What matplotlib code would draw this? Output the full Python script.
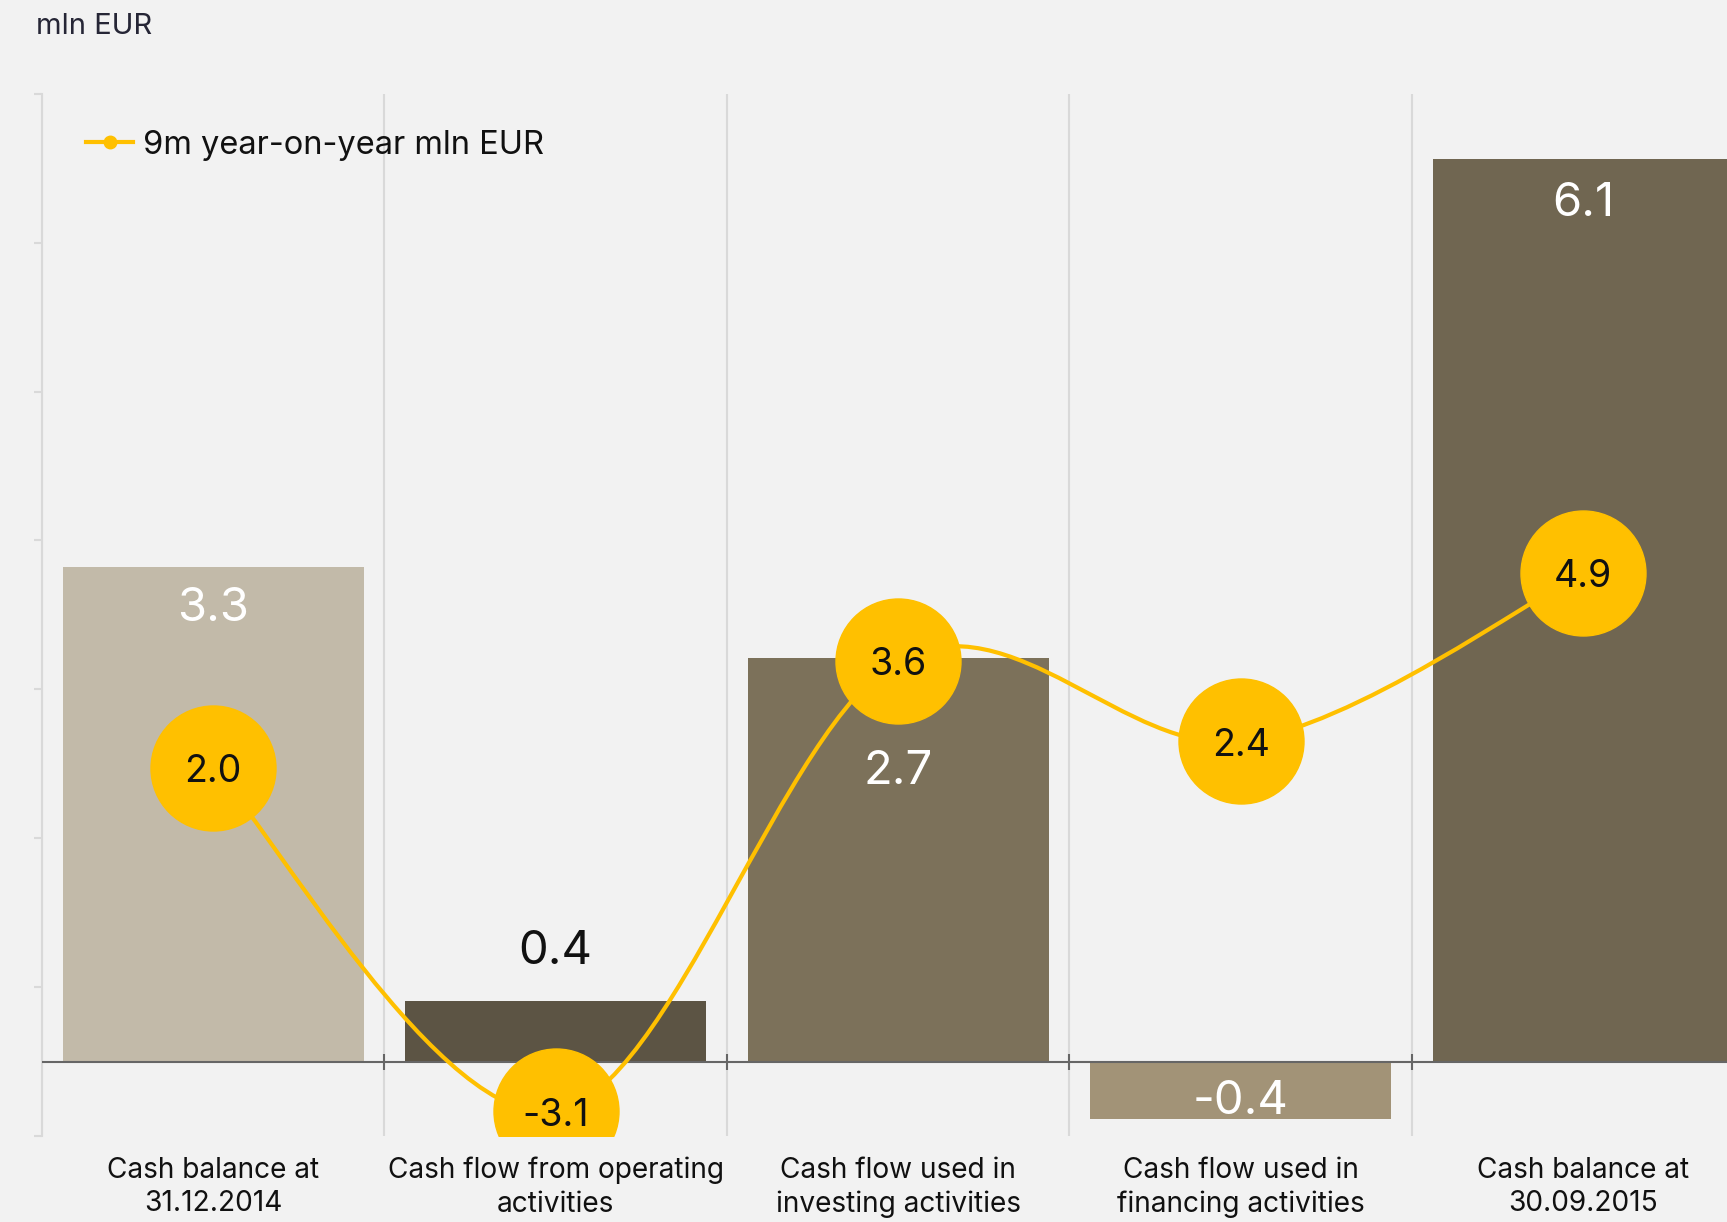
import matplotlib.pyplot as plt
import numpy as np
from matplotlib.path import Path
from matplotlib.patches import PathPatch
from matplotlib.lines import Line2D

plt.rcParams['font.family'] = ['Inter', 'DejaVu Sans']

# data
categories = ["Cash balance at\n31.12.2014", "Cash flow from operating\nactivities",
              "Cash flow used in\ninvesting activities", "Cash flow used in\nfinancing activities",
              "Cash balance at\n30.09.2015"]
bar_values = [3.34, 0.41, 2.73, -0.39, 6.1]
yoy_values = [2.0, -3.1, 3.6, 2.4, 4.9]
legend_label = "9m year-on-year mln EUR"
unit_label = "mln EUR"

# style
bg = "#F2F2F2"
yellow = "#FFC000"
bar_colors = ["#C2BAA9", "#5C5444", "#7C715A", "#A29377", "#706651"]
bar_text_colors = ["white", "#111111", "white", "white", "white"]
bar_text_offsets = [-30, 35, -82, -29, -32]   # points from bar end

fig = plt.figure(figsize=(17.27, 12.22), dpi=100, facecolor=bg)
ax = fig.add_axes([0.02426, 0.0706, 0.9916, 0.8525])
ax.set_facecolor(bg)

x = np.arange(len(categories))
ax.bar(x, bar_values, width=0.878, color=bar_colors, zorder=2)

ax.set_xlim(-0.5, len(categories) - 0.5)
ax.set_ylim(-0.5, 6.54)
ax.set_yticks(np.linspace(-0.5, 6.54, 8))
ax.set_yticklabels([])
ax.tick_params(axis='y', length=6, color="#D9D9D9", width=1.5)

for b in np.arange(-0.5, len(categories) - 0.5, 1.0):
    ax.axvline(b, color="#D9D9D9", lw=1.5, zorder=1)
ax.axhline(0, color="#666666", lw=1.5, zorder=3)
ax.plot(np.arange(0.5, len(categories) - 0.5, 1.0), [0] * (len(categories) - 1),
        linestyle='none', marker='|', ms=11, mew=1.5, color="#666666", zorder=3)

for s in ['top', 'right', 'bottom']:
    ax.spines[s].set_visible(False)
ax.spines['left'].set_color("#D9D9D9")
ax.spines['left'].set_linewidth(1.5)

ax.set_xticks(x)
ax.set_xticklabels(categories, fontsize=20.2, color="#111111", linespacing=1.33)
ax.tick_params(axis='x', length=0, pad=15)

for i, v in enumerate(bar_values):
    anchor = v if v > 0 else 0
    ax.annotate(f"{v:.1f}", (i, anchor), xytext=(0, bar_text_offsets[i]),
                textcoords='offset points', ha='center', va='center',
                fontsize=34, color=bar_text_colors[i], zorder=4)

# line on secondary axis
ax2 = ax.twinx()
ax2.set_ylim(-3.46, 12.02)
ax2.axis('off')


def smooth_path(xs, ys, t=1 / 6):
    n = len(xs)
    verts = [(xs[0], ys[0])]
    codes = [Path.MOVETO]
    for i in range(n - 1):
        xp, yp = (xs[i - 1], ys[i - 1]) if i > 0 else (xs[i], ys[i])
        xn, yn = (xs[i + 2], ys[i + 2]) if i + 2 < n else (xs[i + 1], ys[i + 1])
        c1 = (xs[i] + (xs[i + 1] - xp) * t, ys[i] + (ys[i + 1] - yp) * t)
        c2 = (xs[i + 1] - (xn - xs[i]) * t, ys[i + 1] - (yn - ys[i]) * t)
        verts += [c1, c2, (xs[i + 1], ys[i + 1])]
        codes += [Path.CURVE4] * 3
    return Path(verts, codes)


ax2.add_patch(PathPatch(smooth_path(x, yoy_values), fill=False, edgecolor=yellow,
                        lw=3, zorder=5))
ax2.plot(x, yoy_values, linestyle='none', marker='o', ms=90, color=yellow, zorder=6)
for i, v in enumerate(yoy_values):
    ax2.annotate(f"{v:.1f}", (i, v), xytext=(0, -3), textcoords='offset points',
                 ha='center', va='center', fontsize=27, color="#111111", zorder=7)

handle = Line2D([], [], color=yellow, lw=3, marker='o', ms=9)
ax2.legend([handle], [legend_label], loc='center left', bbox_to_anchor=(0.0258, 0.951),
           frameon=False, fontsize=23.5, borderaxespad=0, borderpad=0,
           handlelength=1.45, handletextpad=0.3, labelcolor="#111111")

fig.text(0.021, 0.978, unit_label, fontsize=21, color="#262636", ha='left', va='center')

fig.savefig("out.png", dpi=100, facecolor=bg)
